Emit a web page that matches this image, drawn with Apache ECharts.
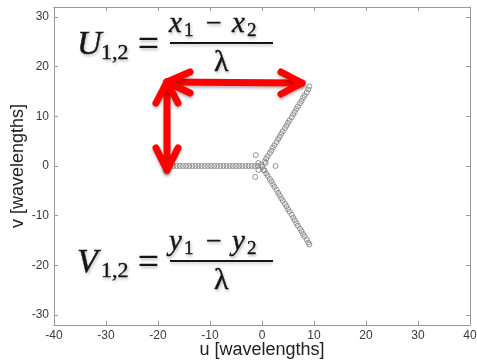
<!DOCTYPE html>
<html>
<head>
<meta charset="utf-8">
<script src="https://cdn.jsdelivr.net/npm/echarts@6/dist/echarts.min.js"></script>
<style>
html,body{margin:0;padding:0;background:#fff;}
#c{width:477px;height:362px;}
</style>
</head>
<body>
<div id="c"></div>
<script>
// ---- data ----
const xTicks = [-40, -30, -20, -10, 0, 10, 20, 30, 40];
const yTicks = [-30, -20, -10, 0, 10, 20, 30];

// west arm (v = 0)
const westU = [-17.6,-17.0,-16.4,-15.8,-15.2,-14.6,-14.0,-13.4,-12.8,-12.2,-11.6,-11.0,-10.4,-9.8,-9.2,-8.6,-8.0,-7.4,-6.8,-6.2,-5.6,-5.0,-4.4,-3.8,-3.2,-2.6,-2.0,-1.4,-0.8];
const westV = [0,0,0,0,0,0,0,0,0,0,0,0,0,0,0,0,0,0,0,0,0,0,0,0,0,0,0,0,0];
// north-east arm
const neU = [0.5,0.8,1.1,1.5,1.8,2.1,2.4,2.8,3.1,3.4,3.7,4.0,4.4,4.7,5.0,5.3,5.7,6.0,6.3,6.6,6.9,7.3,7.6,7.9,8.2,8.6,8.9,9.1];
const neV = [0.9,1.5,2.0,2.6,3.1,3.7,4.2,4.8,5.4,5.9,6.5,7.0,7.6,8.1,8.7,9.2,9.8,10.4,10.9,11.5,12.0,12.6,13.1,13.7,14.2,14.8,15.4,16.0];
// south-east arm
const seU = [0.5,0.8,1.1,1.5,1.8,2.1,2.4,2.8,3.1,3.4,3.7,4.0,4.4,4.7,5.0,5.3,5.7,6.0,6.3,6.6,6.9,7.3,7.6,7.9,8.2,8.6,8.9,9.1];
const seV = [-0.9,-1.5,-2.0,-2.6,-3.1,-3.7,-4.2,-4.8,-5.4,-5.9,-6.5,-7.0,-7.6,-8.1,-8.7,-9.2,-9.8,-10.4,-10.9,-11.5,-12.0,-12.6,-13.1,-13.7,-14.2,-14.8,-15.4,-15.8];
// short baselines near the centre
const coreU = [-1.2,-1.3,2.6,-0.7,0.1,0.7,-0.7,0.3,-0.2];
const coreV = [2.2,-2.2,0.0,0.6,-0.2,0.6,-0.8,-0.8,0.2];

function pairs(us, vs){ return us.map((u,i)=>[u, vs[i]]); }
const points = [].concat(pairs(westU,westV), pairs(neU,neV), pairs(seU,seV), pairs(coreU,coreV));

const chart = echarts.init(document.getElementById('c'), null, {renderer:'canvas'});
const axisGray = '#9a9a9a';
const labelFont = {color:'#3a3a3a', fontSize:12, fontFamily:'Liberation Sans'};

function t(x,y,text,font){
  return {type:'text', x:x, y:y, z:100,
    style:{text:text, font:font, fill:'#161616', textAlign:'left', textVerticalAlign:'middle',
      stroke:'#161616', lineWidth:0.4,
      textShadowColor:'rgba(0,0,0,0.22)', textShadowBlur:3, textShadowOffsetX:1, textShadowOffsetY:2}};
}
function formula(dy, big, sub){
  return [
    t(77, 45+dy, big, 'italic 34px "Liberation Serif"'),
    t(101, 53+dy, '1,2', '22px "Liberation Serif"'),
    t(138, 46+dy, '=', '37px "Liberation Serif"'),
    t(169, 24+dy, sub, 'italic 29px "Liberation Serif"'),
    t(184, 31+dy, '1', '19px "Liberation Serif"'),
    t(206, 25+dy, '\u2212', '28px "Liberation Serif"'),
    t(232, 24+dy, sub, 'italic 29px "Liberation Serif"'),
    t(247, 31+dy, '2', '19px "Liberation Serif"'),
    {type:'line', z:100, shape:{x1:170,y1:43+dy,x2:273,y2:43+dy},
      style:{stroke:'#161616', lineWidth:2, shadowColor:'rgba(0,0,0,0.2)', shadowBlur:3, shadowOffsetY:2}},
    t(214, 63+dy, '\u03bb', '30px "Liberation Serif"')
  ];
}
const arrowStyle = {stroke:'#ff0000', lineWidth:7, lineCap:'round', lineJoin:'round', fill:null,
  shadowColor:'rgba(0,0,0,0.3)', shadowBlur:3, shadowOffsetY:2};
function pl(pts){ return {type:'polyline', z:90, shape:{points:pts}, style:arrowStyle}; }
const arrows = [
  pl([[167,82],[302,83]]),
  pl([[190,72],[167,82],[190,93]]),
  pl([[281,72],[302,83],[281,94]]),
  pl([[167,82],[167,170]]),
  pl([[156,103],[167,82],[178,103]]),
  pl([[156,148],[167,170],[178,148]])
];

const commonAxis = {
  axisLine:{show:true, onZero:false, lineStyle:{color:axisGray, width:1}},
  axisTick:{show:true, inside:true, length:4, lineStyle:{color:axisGray}},
  splitLine:{show:false}
};

chart.setOption({
  animation:false,
  backgroundColor:'#fff',
  grid:{left:54, right:7, top:7, bottom:37, containLabel:false, outerBoundsMode:'none'},
  xAxis:[
    Object.assign({type:'value', position:'bottom', min:-40, max:40, interval:10,
      name:'u [wavelengths]', nameLocation:'middle', nameGap:25, nameMoveOverlap:false,
      nameTextStyle:{color:'#222', fontSize:18, fontFamily:'Liberation Sans', verticalAlign:'middle'},
      axisLabel:Object.assign({margin:5}, labelFont)}, commonAxis),
    Object.assign({type:'value', position:'top', min:-40, max:40, interval:10,
      axisLabel:{show:false}}, commonAxis)
  ],
  yAxis:[
    Object.assign({type:'value', position:'left', min:-32, max:32,
      name:'v [wavelengths]', nameLocation:'middle', nameGap:36, nameMoveOverlap:false,
      nameTextStyle:{color:'#222', fontSize:18, fontFamily:'Liberation Sans', verticalAlign:'middle'},
      axisLabel:Object.assign({margin:5, customValues:yTicks}, labelFont)}, commonAxis,
      {axisTick:{show:true, inside:true, length:4, lineStyle:{color:axisGray}, customValues:yTicks}}),
    Object.assign({type:'value', position:'right', min:-32, max:32,
      axisLabel:{show:false, customValues:yTicks}}, commonAxis,
      {axisTick:{show:true, inside:true, length:4, lineStyle:{color:axisGray}, customValues:yTicks}})
  ],
  series:[{
    type:'scatter', xAxisIndex:0, yAxisIndex:0,
    data:points, symbol:'circle', symbolSize:5,
    itemStyle:{color:'rgba(0,0,0,0)', borderColor:'#7a7a7a', borderWidth:1}
  }],
  graphic:[].concat(arrows, formula(0,'U','x'), formula(218,'V','y'))
});
</script>
</body>
</html>
